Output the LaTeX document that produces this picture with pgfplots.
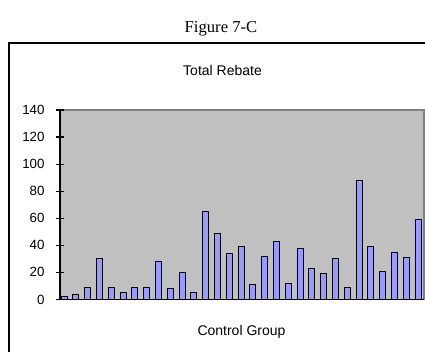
\documentclass[border=0pt]{standalone}
\usepackage{fontspec}
\setmainfont{Liberation Sans}
\newfontfamily\titleserif{Liberation Serif}
\usepackage{pgfplots}
\pgfplotsset{compat=1.18}
\definecolor{barfill}{HTML}{9999FF}
\definecolor{plotbg}{HTML}{C0C0C0}
\definecolor{frameg}{HTML}{808080}
\begin{document}
\begin{tikzpicture}
\useasboundingbox (0,0) rectangle (318.75pt,-263.25pt);
\clip (0,0) rectangle (318.75pt,-263.25pt);
\fill[white] (0,0) rectangle (318.75pt,-263.25pt);
\draw[black, line width=0.8pt] (6.75pt,-32.25pt) rectangle (340pt,-290pt);
\node[anchor=base, font=\titleserif\fontsize{12.5}{14}\selectfont] at (165.75pt,-24pt) {Figure 7-C};
\node[anchor=base, font=\fontsize{10.5}{12}\selectfont] at (166.9pt,-56.25pt) {Total Rebate};
\node[anchor=base, font=\fontsize{10.5}{12}\selectfont] at (181.1pt,-251.25pt) {Control Group};
\begin{axis}[
  at={(45pt,-224.6pt)}, anchor=south west,
  scale only axis, width=273pt, height=142.1pt,
  xmin=0.66, xmax=31.51, ymin=0, ymax=140,
  axis lines*=left,
  axis line style={black, line width=0.9pt},
  axis background/.style={fill=plotbg, draw=frameg, line width=0.8pt},
  xtick=\empty,
  ytick={0,20,...,140},
  tick align=center,
  major tick length=6.75pt,
  every tick/.style={black, line width=0.9pt},
  /pgf/number format/assume math mode=true,
  yticklabel style={font=\fontsize{10}{12}\selectfont, anchor=east, inner sep=0pt, xshift=-8pt},
  clip=false,
]
\addplot[ybar, bar width=4.5pt, fill=barfill, draw=black, line width=0.6pt] coordinates {
(1,2) (2,4) (3,9) (4,30) (5,9) (6,5) (7,9) (8,9) (9,28) (10,8)
(11,20) (12,5) (13,65) (14,49) (15,34) (16,39) (17,11) (18,32) (19,43) (20,12)
(21,38) (22,23) (23,19) (24,30) (25,9) (26,88) (27,39) (28,21) (29,35) (30,31)
(31,59)
};
\end{axis}
\end{tikzpicture}
\end{document}
